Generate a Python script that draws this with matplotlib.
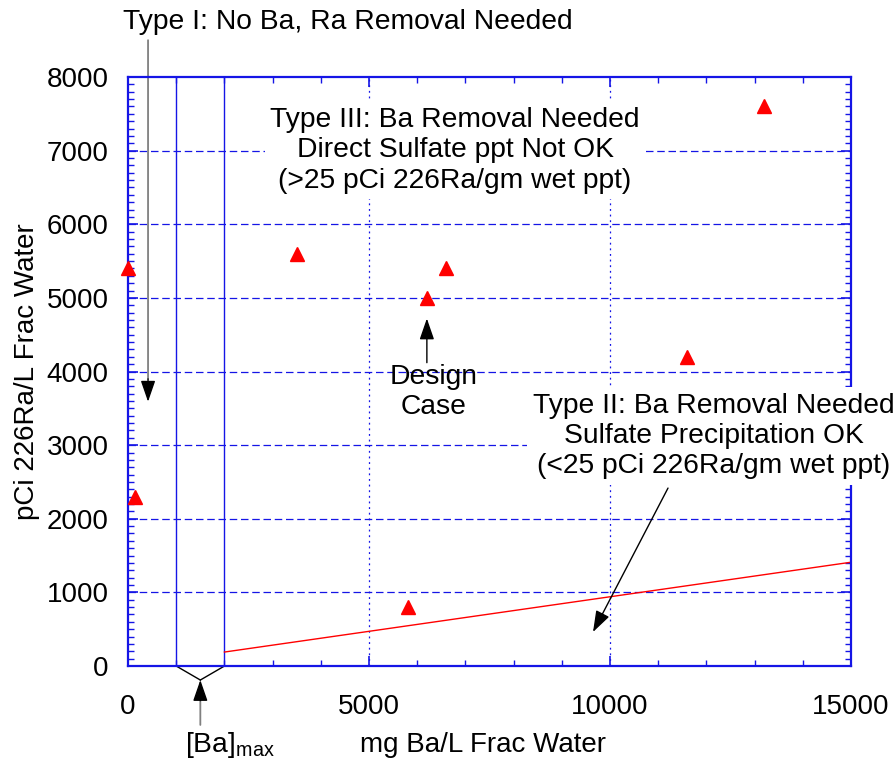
import matplotlib.pyplot as plt
from matplotlib.ticker import MultipleLocator

plt.rcParams['font.family'] = ['Liberation Sans', 'DejaVu Sans']
plt.rcParams['mathtext.fontset'] = 'custom'
plt.rcParams['mathtext.rm'] = 'Liberation Sans'

# frac water samples: Ba (mg/L) vs 226Ra (pCi/L)
ba_mg_per_l = [0, 150, 3500, 5800, 6200, 6600, 11600, 13200]
ra_pci_per_l = [5400, 2300, 5600, 800, 5000, 5400, 4200, 7600]

# 25 pCi 226Ra/gm wet ppt boundary line
boundary_ba = [2000, 15000]
boundary_ra = [190, 1410]

# [Ba]max band
ba_max_band = [1000, 2000]
design_case = (6200, 5000)

x_ticks = [0, 5000, 10000, 15000]
y_ticks = list(range(0, 8001, 1000))

BLUE = '#1515e6'
FS = 20
FS_NOTE = 20.3

fig = plt.figure(figsize=(8.96, 7.66), dpi=100)
ax = fig.add_axes([0.1429, 0.1305, 0.8069, 0.769])

ax.set_xlim(0, 15000)
ax.set_ylim(0, 8000)

# grid: dashed horizontals, dotted verticals
for y in y_ticks[1:-1]:
    ax.axhline(y, color=BLUE, lw=0.9, dashes=(6, 3), zorder=1)
for x in x_ticks[1:-1]:
    ax.axvline(x, color=BLUE, lw=0.9, dashes=(1.5, 3), zorder=1)

for x in ba_max_band:
    ax.axvline(x, color=BLUE, lw=1.0, zorder=2)

ax.plot(boundary_ba, boundary_ra, color='red', lw=1.0, zorder=3)
ax.plot(ba_mg_per_l, ra_pci_per_l, ls='none', marker='^', ms=10,
        color='red', mec='red', zorder=5, clip_on=False)

# frame and ticks
for s in ax.spines.values():
    s.set_color(BLUE)
    s.set_linewidth(1.6)
    s.set_zorder(4)
ax.set_xticks(x_ticks)
ax.set_yticks(y_ticks)
ax.xaxis.set_minor_locator(MultipleLocator(1000))
ax.yaxis.set_minor_locator(MultipleLocator(100))
ax.tick_params(which='both', direction='in', top=True, right=True,
               color=BLUE, labelsize=FS)
ax.tick_params(which='major', length=7, width=1.2)
ax.tick_params(which='minor', length=4, width=1.0)
ax.tick_params(axis='x', pad=20)
ax.tick_params(axis='y', pad=14)
ax.set_xticklabels([str(v) for v in x_ticks])
ax.set_yticklabels([str(v) for v in y_ticks])

# axis titles placed in figure pixels
W, H = fig.get_size_inches() * fig.dpi
fig.text(483 / W, 1 - 745 / H, 'mg Ba/L Frac Water', fontsize=FS,
         ha='center', va='center')
fig.text(27 / W, 1 - 372 / H, 'pCi 226Ra/L Frac Water', fontsize=FS,
         ha='center', va='center', rotation=90)

head = '-|>,head_length=1.3,head_width=0.45'
box = dict(facecolor='white', edgecolor='none', pad=4)

# Type I region
ax.text(4560, 8744, 'Type I: No Ba, Ra Removal Needed', fontsize=FS_NOTE,
        ha='center', va='center', clip_on=False)
ax.annotate('', xy=(415, 3900), xytext=(415, 8500),
            arrowprops=dict(arrowstyle='-', color='#808080', lw=1.3,
                            shrinkA=0, shrinkB=0), annotation_clip=False)
ax.annotate('', xy=(415, 3590), xytext=(415, 3900),
            arrowprops=dict(arrowstyle=head, color='black', lw=1.0,
                            shrinkA=0, shrinkB=0), annotation_clip=False)

# Type III region
ax.text(6784, 7006, 'Type III: Ba Removal Needed\nDirect Sulfate ppt Not OK\n'
        '(>25 pCi 226Ra/gm wet ppt)', fontsize=FS_NOTE, ha='center',
        va='center', linespacing=1.22, bbox=box, zorder=6)

# Design case
ax.annotate('', xy=(design_case[0], design_case[1] - 280),
            xytext=(design_case[0], design_case[1] - 880),
            arrowprops=dict(arrowstyle=head, color='black', lw=1.0,
                            shrinkA=0, shrinkB=0))
ax.text(6330, 3720, 'Design\nCase', fontsize=FS_NOTE, ha='center',
        va='center', linespacing=1.22, zorder=6)

# Type II region
ax.text(12150, 3123, 'Type II: Ba Removal Needed\nSulfate Precipitation OK\n'
        '(<25 pCi 226Ra/gm wet ppt)', fontsize=FS_NOTE, ha='center',
        va='center', linespacing=1.22, bbox=box, zorder=6, clip_on=False)
ax.annotate('', xy=(9647, 462), xytext=(11203, 2417),
            arrowprops=dict(arrowstyle=head, color='black', lw=1.0,
                            shrinkA=0, shrinkB=0), zorder=6)

# [Ba]max bracket below the axis
mid = sum(ba_max_band) / 2
for x in ba_max_band:
    ax.plot([x, mid], [0, -190], color='black', lw=1.0, clip_on=False)
ax.annotate('', xy=(mid, -470), xytext=(mid, -800),
            arrowprops=dict(arrowstyle='-', color='#808080', lw=1.3,
                            shrinkA=0, shrinkB=0), annotation_clip=False)
ax.annotate('', xy=(mid, -190), xytext=(mid, -470),
            arrowprops=dict(arrowstyle=head, color='black', lw=1.0,
                            shrinkA=0, shrinkB=0), annotation_clip=False)
ax.text(1183, -1073, '[Ba]$_{\\mathrm{max}}$', fontsize=FS_NOTE, ha='left',
        va='center', clip_on=False)

fig.savefig('out.png', dpi=100)
